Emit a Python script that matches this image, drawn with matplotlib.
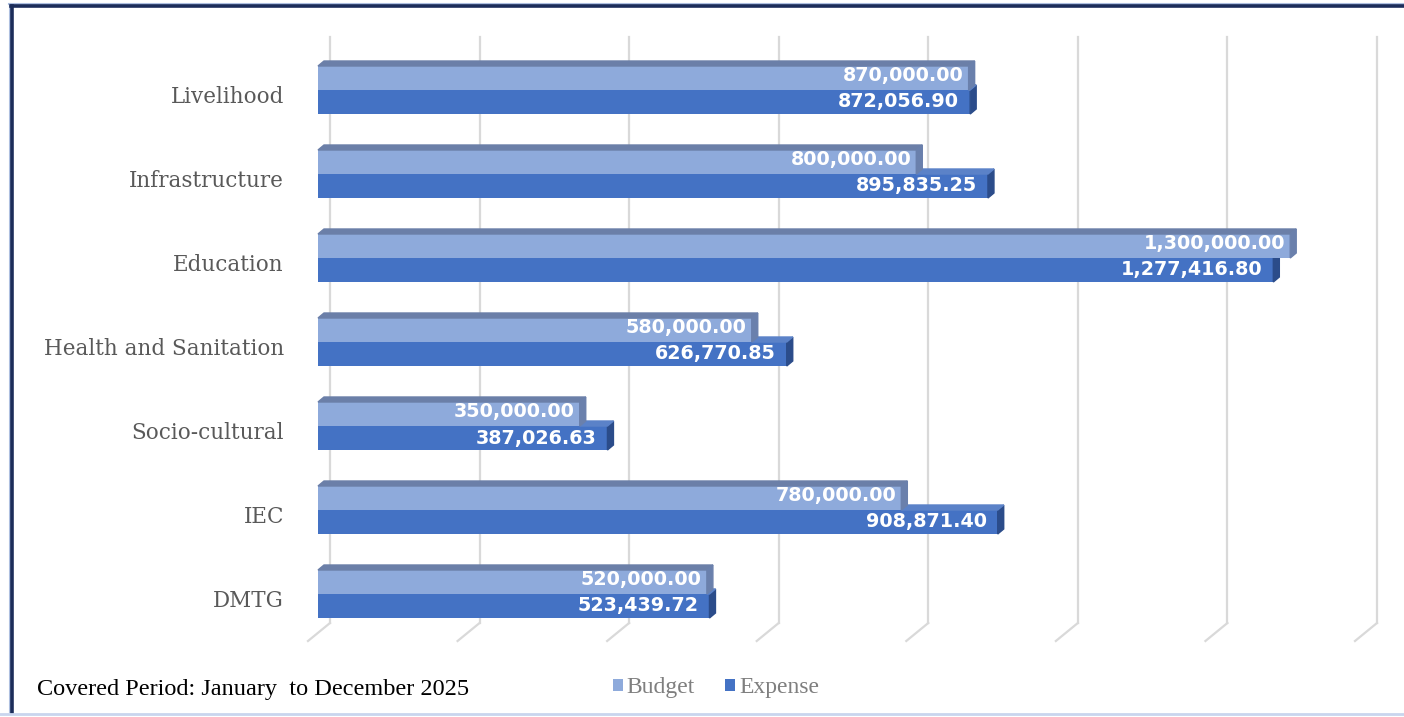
import matplotlib
matplotlib.use("Agg")
import matplotlib.pyplot as plt
from matplotlib.patches import Polygon
from matplotlib.lines import Line2D

# Data
categories = ["Livelihood", "Infrastructure", "Education", "Health and Sanitation",
              "Socio-cultural", "IEC", "DMTG"]
budget = [870000.00, 800000.00, 1300000.00, 580000.00, 350000.00, 780000.00, 520000.00]
expense = [872056.90, 895835.25, 1277416.80, 626770.85, 387026.63, 908871.40, 523439.72]
x_ticks = [0, 200000, 400000, 600000, 800000, 1000000, 1200000, 1400000]

# Colours
c_budget = "#8eaadb"
c_budget_top = "#6b7fa8"
c_budget_side = "#6a80ac"
c_expense = "#4472c4"
c_expense_top = "#5b82c8"
c_expense_side = "#2b4c8a"

W, H = 1404, 717
fig = plt.figure(figsize=(W / 100, H / 100), dpi=100)
fig.patch.set_facecolor("white")

# axes placed so that 0 sits at px 318 and 1.4M at px 1365
top_px, bot_px = 30, 645
ax = fig.add_axes([318 / W, 1 - bot_px / H, 1047 / W, (bot_px - top_px) / H])
xmax = 1400000
ax.set_xlim(0, xmax)
ax.set_ylim((bot_px - 90) / 84, (top_px - 90) / 84)
ax.axis("off")

px = xmax / 1047.0   # data units per pixel in x
py = 1 / 84.0        # data units per pixel in y

# 3D offsets
bdx, bdy = 6 * px, 5 * py       # bar depth
wdx = 12 * px                   # back wall offset
floor_back = (623 - 90) * py
floor_front = (641 - 90) * py
wall_top = (37 - 90) * py

# back wall gridlines and floor slants
for t in x_ticks:
    ax.plot([t + wdx, t + wdx], [wall_top, floor_back], color="#d9d9d9", lw=1.6,
            clip_on=False, zorder=0)
    ax.plot([t + wdx, t - 10 * px], [floor_back, floor_front], color="#d9d9d9", lw=1.6,
            clip_on=False, zorder=0)

h = 24 * py
for i, (b, e) in enumerate(zip(budget, expense)):
    # expense bar (lower half)
    e_top, e_bot = i, i + h
    ax.barh(i + h / 2, e, height=h, color=c_expense, zorder=2,
            label="Expense" if i == 0 else None)
    ax.add_patch(Polygon([(e, e_top), (e + bdx, e_top - bdy), (e + bdx, e_bot - bdy), (e, e_bot)],
                         closed=True, color=c_expense_side, zorder=2, clip_on=False))
    if e > b:
        ax.add_patch(Polygon([(b, e_top), (e, e_top), (e + bdx, e_top - bdy), (b + bdx, e_top - bdy)],
                             closed=True, color=c_expense_top, zorder=2, clip_on=False))

    # budget bar (upper half)
    b_top, b_bot = i - h, i
    ax.barh(i - h / 2, b, height=h, color=c_budget, zorder=3,
            label="Budget" if i == 0 else None)
    ax.add_patch(Polygon([(0, b_top), (b, b_top), (b + bdx, b_top - bdy), (bdx, b_top - bdy)],
                         closed=True, color=c_budget_top, zorder=3, clip_on=False))
    ax.add_patch(Polygon([(b, b_top), (b + bdx, b_top - bdy), (b + bdx, b_bot - bdy), (b, b_bot)],
                         closed=True, color=c_budget_side, zorder=3, clip_on=False))

    # value labels
    ax.text(b - 5 * px, i - h / 2 - 3 * py, f"{b:,.2f}", ha="right", va="center", color="white",
            fontsize=13.8, fontweight="bold", family="DejaVu Sans", zorder=5)
    ax.text(e - 11 * px, i + h / 2, f"{e:,.2f}", ha="right", va="center", color="white",
            fontsize=13.8, fontweight="bold", family="DejaVu Sans", zorder=5)

    # category labels
    ax.text(-34 * px, i + 7 * py, categories[i], ha="right", va="center", color="#595959",
            fontsize=15.5, family="DejaVu Serif")

# footer text
fig.text(37 / W, 1 - 690 / H, "Covered Period: January  to December 2025", ha="left",
         va="center", fontsize=17.5, family="Liberation Serif", color="black")

# legend
handles, labels = ax.get_legend_handles_labels()
order = [labels.index("Budget"), labels.index("Expense")]
leg = fig.legend([handles[k] for k in order], [labels[k] for k in order],
                 loc="center", bbox_to_anchor=(716 / W, 1 - 688 / H), ncol=2,
                 frameon=False, handlelength=0.42, handleheight=0.42, handletextpad=0.15,
                 columnspacing=1.3, prop={"family": "Liberation Serif", "size": 17})
for t in leg.get_texts():
    t.set_color("#7f7f7f")

# frame of the slide
fig.add_artist(Line2D([9 / W, 1], [1 - 4 / H, 1 - 4 / H], color="#aebfe0", lw=1.5))
fig.add_artist(Line2D([10 / W, 10 / W], [1 - 4 / H, 1 - 712 / H], color="#aebfe0", lw=1.5))
fig.add_artist(Line2D([11 / W, 1], [1 - 6 / H, 1 - 6 / H], color="#1c2d5a", lw=2.6))
fig.add_artist(Line2D([12 / W, 12 / W], [1 - 6 / H, 1 - 712 / H], color="#1c2d5a", lw=2.6))
fig.add_artist(Line2D([0, 1], [1 - 714 / H, 1 - 714 / H], color="#c9d5ee", lw=2))

fig.savefig("out.png", dpi=100)
